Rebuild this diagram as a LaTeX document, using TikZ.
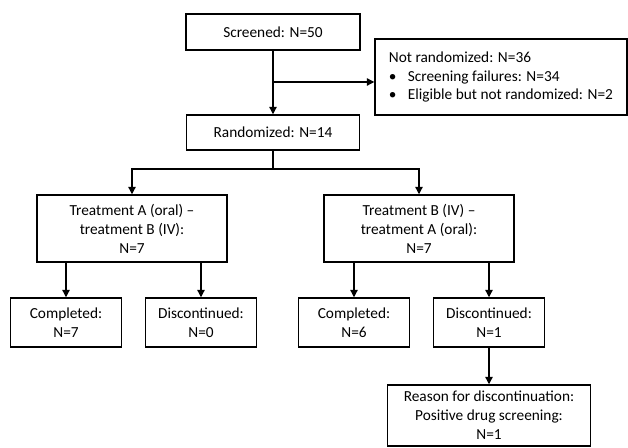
\documentclass[tikz,border=0pt]{standalone}
\usepackage{fontspec}
\setmainfont{Carlito}
\usetikzlibrary{positioning,arrows.meta}
\tikzset{
  box/.style={rectangle, draw, line width=1.1pt, fill=white, align=center, inner sep=0pt},
  flow/.style={-{Triangle[width=5.5pt,length=5.5pt]}, line width=0.9pt},
  link/.style={line width=0.9pt}
}

\begin{document}
\begin{tikzpicture}[x=0.75pt, y=-0.75pt, font={\fontsize{11.5}{14.2}\selectfont}]
      \useasboundingbox (0,0) rectangle (628,448);

      % top part
      \node[box, minimum width=174*0.75pt, minimum height=36*0.75pt] (screen) at (273,32) {Screened: N=50};
      \node[box, minimum width=252*0.75pt, minimum height=76*0.75pt, align=left] (notrand) at (501,77)
        {Not randomized: N=36\\
         \makebox[14.25pt][l]{\textbullet}Screening failures: N=34\\
         \makebox[14.25pt][l]{\textbullet}Eligible but not randomized: N=2};
      \node[box, minimum width=173*0.75pt, minimum height=35*0.75pt] (rand) at (273,132.5) {Randomized: N=14};

      \coordinate (excl) at (273,82);
      \draw[flow] (screen) -- (rand);
      \draw[flow] (excl) -- (notrand.west |- excl);

      % arms
      \node[box, minimum width=190*0.75pt, minimum height=67*0.75pt] (armA) at (132,228.5)
        {Treatment A (oral) --\\ treatment B (IV):\\ N=7};
      \node[box, minimum width=190*0.75pt, minimum height=67*0.75pt] (armB) at (419,228.5)
        {Treatment B (IV) --\\ treatment A (oral):\\ N=7};

      \coordinate (split) at (273,169);
      \draw[link] (rand) -- (split);
      \draw[flow] (split) -| (armA);
      \draw[flow] (split) -| (armB);

      % outcomes
      \node[box, minimum width=111*0.75pt, minimum height=49*0.75pt] (complA) at (66,322.5) {Completed:\\ N=7};
      \node[box, minimum width=111*0.75pt, minimum height=49*0.75pt] (discA) at (201,322.5) {Discontinued:\\ N=0};
      \node[box, minimum width=111*0.75pt, minimum height=49*0.75pt] (complB) at (354,322.5) {Completed:\\ N=6};
      \node[box, minimum width=111*0.75pt, minimum height=49*0.75pt] (discB) at (489,322.5) {Discontinued:\\ N=1};

      \draw[flow] (armA.south -| complA) -- (complA);
      \draw[flow] (armA.south -| discA) -- (discA);
      \draw[flow] (armB.south -| complB) -- (complB);
      \draw[flow] (armB.south -| discB) -- (discB);

      \node[box, minimum width=203*0.75pt, minimum height=61*0.75pt] (reason) at (489,415.5)
        {Reason for discontinuation:\\ Positive drug screening:\\ N=1};
      \draw[flow] (discB) -- (reason);

\end{tikzpicture}
\end{document}
